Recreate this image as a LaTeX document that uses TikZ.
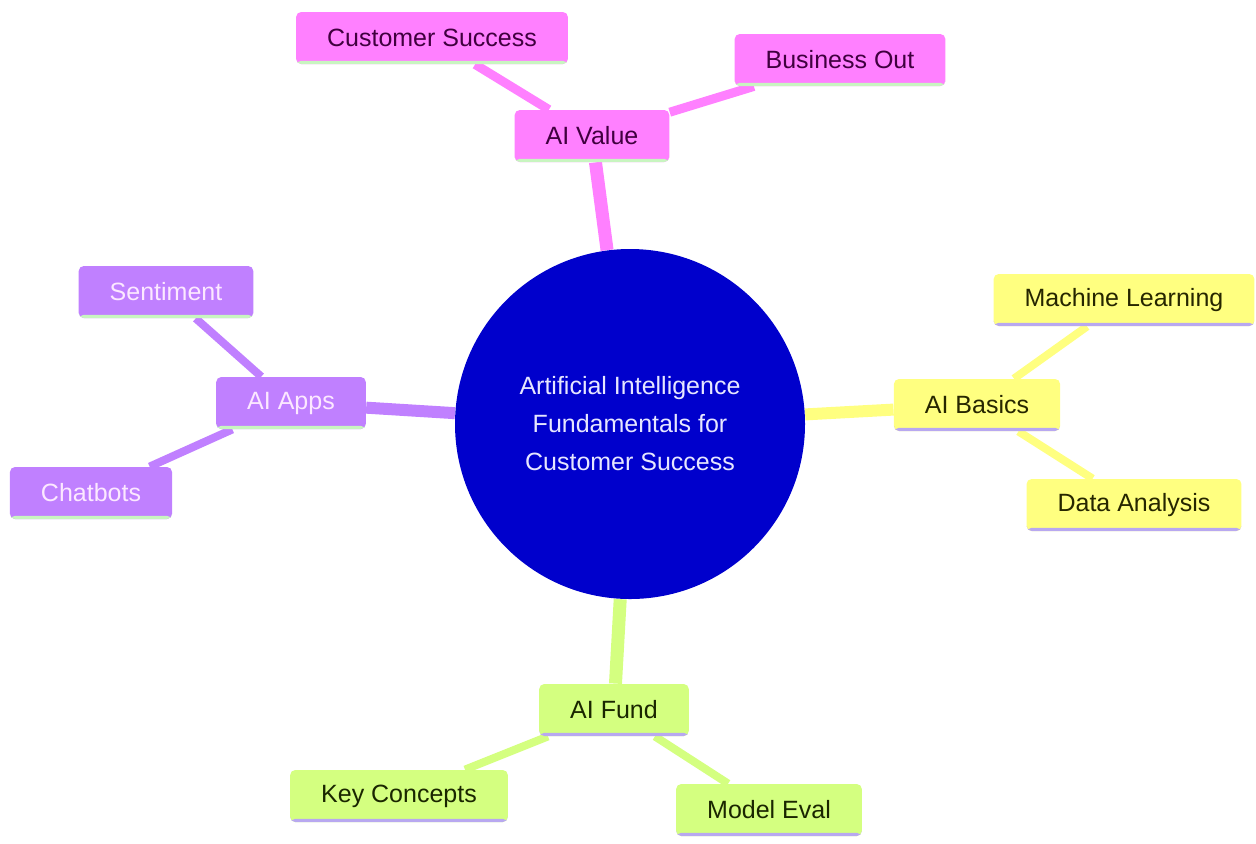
\documentclass[tikz,border=0pt]{standalone}
\usepackage{fontspec}
\setmainfont{Liberation Sans}
\usetikzlibrary{backgrounds}
\definecolor{hubblue}{HTML}{0000CC}
\definecolor{hubtext}{HTML}{E6E6FF}
\definecolor{valuefill}{HTML}{FF80FF}
\definecolor{valuetext}{HTML}{40003F}
\definecolor{basicsfill}{HTML}{FFFF80}
\definecolor{basicstext}{HTML}{262600}
\definecolor{appsfill}{HTML}{C080FF}
\definecolor{appstext}{HTML}{FCE8FF}
\definecolor{fundfill}{HTML}{D4FF80}
\definecolor{fundtext}{HTML}{1A2600}
\definecolor{greenline}{HTML}{C8F5C0}
\definecolor{lilacline}{HTML}{B8A8F0}
\tikzset{
  hub/.style={circle, fill=hubblue, text=hubblue!0!hubtext, minimum size=175pt, inner sep=0pt, align=center},
  leaf/.style n args={3}{rounded corners=2.5pt, fill=#1, text=#2, inner xsep=15.5pt, minimum height=26pt,
    path picture={\fill[#3] (path picture bounding box.south west) rectangle ([yshift=1.6pt]path picture bounding box.south east);}},
  value/.style={leaf={valuefill}{valuetext}{greenline}},
  basics/.style={leaf={basicsfill}{basicstext}{lilacline}},
  apps/.style={leaf={appsfill}{appstext}{greenline}},
  fund/.style={leaf={fundfill}{fundtext}{lilacline}},
}
\begin{document}
\begin{tikzpicture}[x=0.5pt, y=-0.5pt, every node/.append style={font=\fontsize{12.5}{19}\selectfont}]
\useasboundingbox (0,0) rectangle (1256,843);
\node[hub] (root) at (630,424) {Artificial Intelligence\\Fundamentals for\\Customer Success};

\foreach \n/\x/\y/\s/\t in {vl/592/136/value/AI Value, cs/432/38/value/Customer Success, bo/840/60/value/Business Out,
	ba/977/405/basics/AI Basics, ml/1124/300/basics/Machine Learning, da/1134/505/basics/Data Analysis,
	ap/291/403/apps/AI Apps, se/166/292/apps/Sentiment, cb/91/493/apps/Chatbots,
	fu/614/710/fund/AI Fund, kc/399/796/fund/Key Concepts, me/769/810/fund/Model Eval}
{
	\node[\s] (\n) at (\x,\y) {\t};
}

\begin{scope}[on background layer]
	\foreach \a/\b/\c/\w in {root/vl/valuefill/6.5pt, root/ba/basicsfill/6pt, root/ap/appsfill/6pt, root/fu/fundfill/6.5pt,
		vl/cs/valuefill/4.5pt, vl/bo/valuefill/4.5pt, ba/ml/basicsfill/4pt, ba/da/basicsfill/4pt,
		ap/se/appsfill/4pt, ap/cb/appsfill/4pt, fu/kc/fundfill/4pt, fu/me/fundfill/4pt}
	{
		\draw[\c, line width=\w] (\a) -- (\b);
	}
\end{scope}
\end{tikzpicture}
\end{document}
